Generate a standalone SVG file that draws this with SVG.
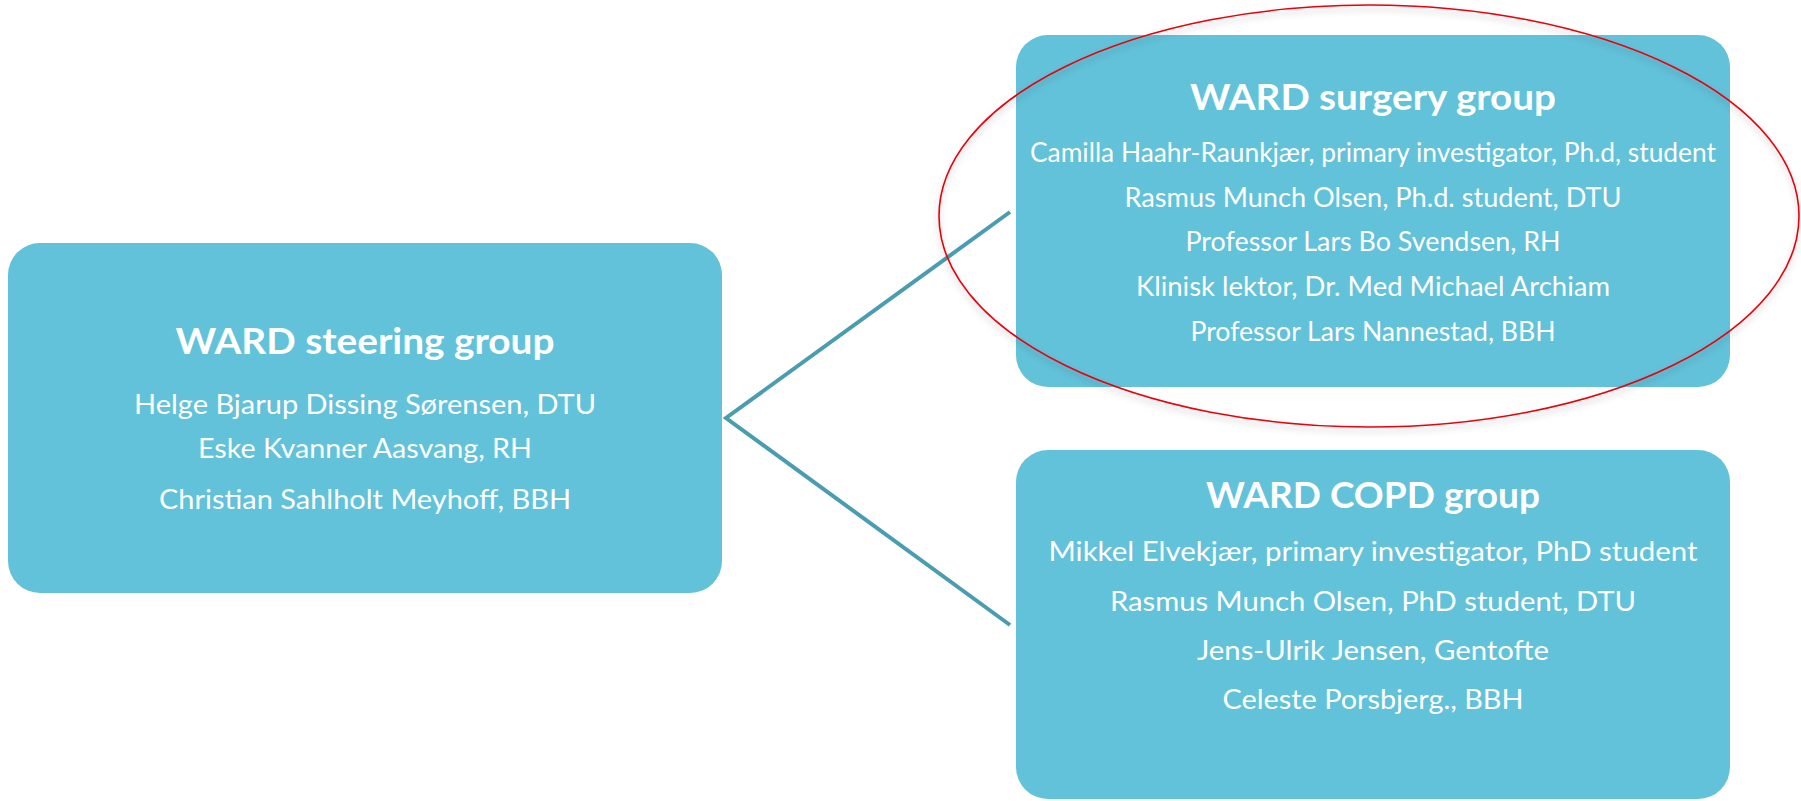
<svg xmlns="http://www.w3.org/2000/svg" width="1801" height="801" viewBox="0 0 1801 801">
<style>
.box{fill:#62C2DA}
.t{font-family:Lato,"Open Sans","Liberation Sans",sans-serif;fill:#fff;text-anchor:middle}
.h{font-size:36px;font-weight:bold}
.b{font-size:26px}
.conn{stroke:#4A9DB0;stroke-width:4;fill:none}
</style>
<defs>
<filter id="sh" x="-10%" y="-10%" width="120%" height="125%">
<feGaussianBlur in="SourceAlpha" stdDeviation="3"/>
<feOffset dx="0" dy="4" result="b"/>
<feFlood flood-color="#000" flood-opacity="0.25"/>
<feComposite in2="b" operator="in"/>
<feMerge><feMergeNode/><feMergeNode in="SourceGraphic"/></feMerge>
</filter>
</defs>
<rect width="1801" height="801" fill="#fff"/>
<g id="connectors">
<polyline class="conn" points="1010,212 726,418 1010,625"/>
</g>
<g id="steering">
<rect class="box" x="8" y="243" width="714" height="350" rx="32"/>
<text class="t h" x="365" y="354" textLength="379" lengthAdjust="spacingAndGlyphs">WARD steering group</text>
<text class="t b" x="365" y="414" textLength="462" lengthAdjust="spacingAndGlyphs">Helge Bjarup Dissing Sørensen, DTU</text>
<text class="t b" x="365" y="458" textLength="334" lengthAdjust="spacingAndGlyphs">Eske Kvanner Aasvang, RH</text>
<text class="t b" x="365" y="509" textLength="412" lengthAdjust="spacingAndGlyphs">Christian Sahlholt Meyhoff, BBH</text>
</g>
<g id="surgery">
<rect class="box" x="1016" y="35" width="714" height="352" rx="32"/>
<text class="t h" x="1373" y="110" textLength="366" lengthAdjust="spacingAndGlyphs">WARD surgery group</text>
<text class="t b" x="1373" y="162" textLength="686" lengthAdjust="spacingAndGlyphs">Camilla Haahr-Raunkjær, primary investigator, Ph.d, student</text>
<text class="t b" x="1373" y="207" textLength="497" lengthAdjust="spacingAndGlyphs">Rasmus Munch Olsen, Ph.d. student, DTU</text>
<text class="t b" x="1373" y="251" textLength="375" lengthAdjust="spacingAndGlyphs">Professor Lars Bo Svendsen, RH</text>
<text class="t b" x="1373" y="296" textLength="474" lengthAdjust="spacingAndGlyphs">Klinisk lektor, Dr. Med Michael Archiam</text>
<text class="t b" x="1373" y="341" textLength="365" lengthAdjust="spacingAndGlyphs">Professor Lars Nannestad, BBH</text>
</g>
<g id="copd">
<rect class="box" x="1016" y="450" width="714" height="349" rx="32"/>
<text class="t h" x="1373" y="508" textLength="334" lengthAdjust="spacingAndGlyphs">WARD COPD group</text>
<text class="t b" x="1373" y="561" textLength="649" lengthAdjust="spacingAndGlyphs">Mikkel Elvekjær, primary investigator, PhD student</text>
<text class="t b" x="1373" y="611" textLength="526" lengthAdjust="spacingAndGlyphs">Rasmus Munch Olsen, PhD student, DTU</text>
<text class="t b" x="1373" y="660" textLength="352" lengthAdjust="spacingAndGlyphs">Jens-Ulrik Jensen, Gentofte</text>
<text class="t b" x="1373" y="709" textLength="301" lengthAdjust="spacingAndGlyphs">Celeste Porsbjerg., BBH</text>
</g>
<g id="highlight">
<ellipse cx="1369" cy="216" rx="430" ry="211" fill="none" stroke="#E8000B" stroke-width="1.6" filter="url(#sh)"/>
</g>
</svg>
